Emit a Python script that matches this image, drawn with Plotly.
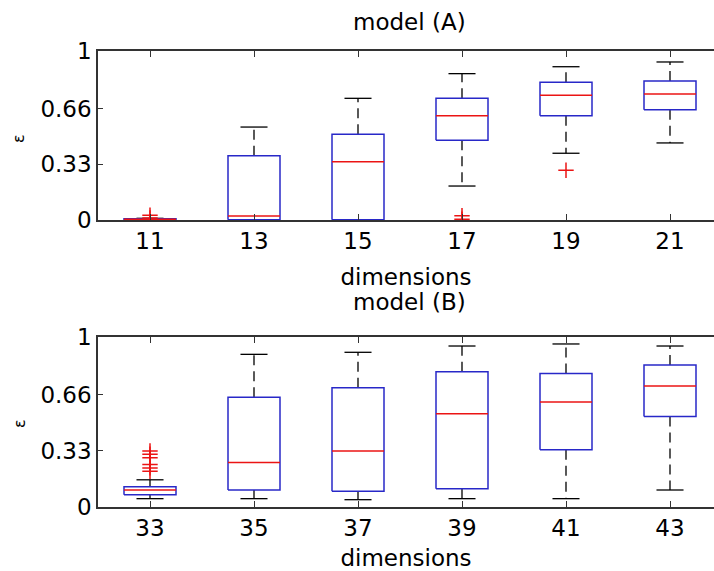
import plotly.graph_objects as go

# ---------------- data ----------------
cats_a = ["11", "13", "15", "17", "19", "21"]
med_a = [0.004, 0.024, 0.345, 0.617, 0.738, 0.746]
q1_a = [0.000, 0.002, 0.002, 0.472, 0.617, 0.653]
q3_a = [0.008, 0.380, 0.507, 0.720, 0.815, 0.822]
lo_a = [0.000, 0.000, 0.000, 0.201, 0.395, 0.456]
hi_a = [0.010, 0.550, 0.720, 0.866, 0.907, 0.935]
out_a = [[0.012, 0.028], [], [], [0.005, 0.025], [0.294], []]

cats_b = ["33", "35", "37", "39", "41", "43"]
med_b = [0.100, 0.262, 0.329, 0.549, 0.618, 0.712]
q1_b = [0.072, 0.100, 0.092, 0.108, 0.337, 0.533]
q3_b = [0.119, 0.645, 0.702, 0.796, 0.786, 0.835]
lo_b = [0.049, 0.049, 0.043, 0.049, 0.049, 0.100]
hi_b = [0.160, 0.898, 0.910, 0.947, 0.959, 0.947]
out_b = [[0.21, 0.23, 0.25, 0.29, 0.31, 0.33], [], [], [], [], []]

y_ticks = [0, 0.33, 0.66, 1]
y_ticktext = ["0", "0.33", "0.66", "1"]
x_title = "dimensions"
y_title = "ε"
titles = ["model (A)", "model (B)"]

# ---------------- style ----------------
W, H = 714, 571
ML, MR, MT, MB = 0, 0, 30, 30
PW, PH = W - ML - MR, H - MT - MB
BOX_HALF = 0.25
CAP_HALF = 0.13
BLUE = "rgb(40,40,200)"
RED = "rgb(235,20,20)"
FONT = "DejaVu Sans, Verdana, sans-serif"
AXCOL = "#333333"
TICK_SIZE = 23
LABEL_SIZE = 23


def px(x):
    return (x - ML) / PW


def py(y):
    return 1 - (y - MT) / PH


fig = go.Figure()


def add_panel(cats, med, q1, q3, lo, hi, outs, xa, ya):
    pos = list(range(1, len(cats) + 1))
    bx, by, mx, my, wx, wy, cx, cy, ox, oy = [], [], [], [], [], [], [], [], [], []
    for i, p in enumerate(pos):
        bx += [p - BOX_HALF, p + BOX_HALF, p + BOX_HALF, p - BOX_HALF, p - BOX_HALF, None]
        by += [q1[i], q1[i], q3[i], q3[i], q1[i], None]
        mx += [p - BOX_HALF, p + BOX_HALF, None]
        my += [med[i], med[i], None]
        wx += [p, p, None, p, p, None]
        wy += [q3[i], hi[i], None, q1[i], lo[i], None]
        cx += [p - CAP_HALF, p + CAP_HALF, None, p - CAP_HALF, p + CAP_HALF, None]
        cy += [hi[i], hi[i], None, lo[i], lo[i], None]
        for o in outs[i]:
            ox.append(p)
            oy.append(o)
    common = dict(xaxis=xa, yaxis=ya, showlegend=False, hoverinfo="skip")
    fig.add_trace(go.Scatter(x=wx, y=wy, mode="lines",
                             line=dict(color="black", width=1.3, dash="10px,6px"), **common))
    fig.add_trace(go.Scatter(x=cx, y=cy, mode="lines",
                             line=dict(color="black", width=1.3), **common))
    fig.add_trace(go.Scatter(x=bx, y=by, mode="lines",
                             line=dict(color=BLUE, width=1.5), **common))
    fig.add_trace(go.Scatter(x=mx, y=my, mode="lines",
                             line=dict(color=RED, width=1.5), **common))
    fig.add_trace(go.Scatter(x=ox, y=oy, mode="markers",
                             marker=dict(symbol="cross-thin", size=11,
                                         line=dict(color=RED, width=1.5)), **common))


add_panel(cats_a, med_a, q1_a, q3_a, lo_a, hi_a, out_a, "x", "y")
add_panel(cats_b, med_b, q1_b, q3_b, lo_b, hi_b, out_b, "x2", "y2")

x_range = [0.5, 0.5 + (W - 98) / 104]


def xaxis(cats, anchor):
    return dict(domain=[px(98), 1], range=x_range, anchor=anchor,
                tickvals=list(range(1, len(cats) + 1)), ticktext=cats,
                ticks="inside", ticklen=6, tickcolor=AXCOL, tickwidth=1.2,
                showline=True, linecolor=AXCOL, linewidth=1.5, mirror="ticks",
                showgrid=False, zeroline=False, automargin=False,
                title=dict(text=x_title, standoff=16,
                           font=dict(size=LABEL_SIZE, color="black", family=FONT)),
                tickfont=dict(size=TICK_SIZE, color="black", family=FONT))


def yaxis(top, bottom, anchor):
    return dict(domain=[py(bottom), py(top)], range=[0, 1], anchor=anchor,
                tickvals=y_ticks, ticktext=y_ticktext,
                ticks="inside", ticklen=5, tickcolor=AXCOL, tickwidth=1.2,
                showline=True, linecolor=AXCOL, linewidth=1.5, mirror=False,
                showgrid=False, zeroline=False, automargin=False,
                tickfont=dict(size=TICK_SIZE, color="black", family=FONT))


fig.update_layout(
    width=W, height=H,
    margin=dict(l=ML, r=MR, t=MT, b=MB),
    paper_bgcolor="white", plot_bgcolor="white",
    xaxis=xaxis(cats_a, "y"),
    yaxis=yaxis(51, 220, "x"),
    xaxis2=xaxis(cats_b, "y2"),
    yaxis2=yaxis(337, 507, "x2"),
    font=dict(family=FONT, color="black"),
)

annots = [
    (titles[0], 410, 22, LABEL_SIZE, 0),
    (titles[1], 410, 302, LABEL_SIZE, 0),
    (y_title, 19, 139, 16, -90),
    (y_title, 19, 424, 16, -90),
]
for text, x, y, size, ang in annots:
    fig.add_annotation(text=text, x=px(x), y=py(y), xref="paper", yref="paper",
                       xanchor="center", yanchor="middle", showarrow=False,
                       textangle=ang, font=dict(size=size, color="black", family=FONT))

fig.write_html("out.html")
